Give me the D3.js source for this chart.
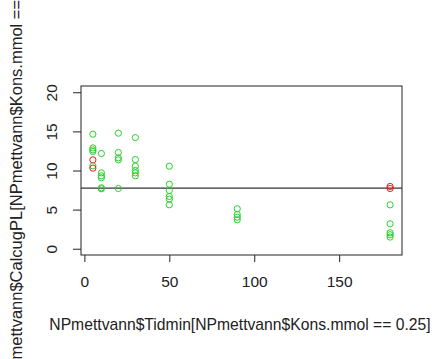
<!DOCTYPE html>
<html>
<head>
<meta charset="utf-8">
<script src="https://cdn.jsdelivr.net/npm/d3@7"></script>
<style>
  html, body { margin: 0; padding: 0; background: #fff; }
  svg { display: block; }
  text { font-family: "Liberation Sans", Arial, sans-serif; fill: #222; }
</style>
</head>
<body>
<script>
// Calculated concentration vs. time (Kons.mmol == 0.25)
const timeMin = [5, 5, 5, 5, 5, 5, 5,
                 10, 10, 10, 10, 10, 10,
                 20, 20, 20, 20, 20,
                 30, 30, 30, 30, 30, 30,
                 50, 50, 50, 50, 50, 50,
                 90, 90, 90, 90,
                 180, 180, 180, 180, 180, 180, 180];
const calcugPL = [14.64, 12.89, 12.64, 12.43, 11.36, 10.6, 10.30,
                  12.17, 9.70, 9.32, 9.07, 7.79, 7.66,
                  14.77, 12.30, 11.62, 11.36, 7.70,
                  14.21, 11.40, 10.55, 10.0, 9.70, 9.32,
                  10.55, 8.25, 7.45, 6.68, 6.34, 5.62,
                  5.11, 4.38, 4.04, 3.70,
                  7.96, 7.70, 5.61, 3.19, 2.04, 1.79, 1.49];
const pointGroup = ["g", "g", "g", "g", "r", "g", "r",
                    "g", "g", "g", "g", "g", "g",
                    "g", "g", "g", "g", "g",
                    "g", "g", "g", "g", "g", "g",
                    "g", "g", "g", "g", "g", "g",
                    "g", "g", "g", "g",
                    "r", "r", "g", "g", "g", "g", "g"];
const refLevel = 7.75;
const xTicks = [0, 50, 100, 150];
const yTicks = [0, 5, 10, 15, 20];
const xLabel = "NPmettvann$Tidmin[NPmettvann$Kons.mmol == 0.25]";
const yLabel = "NPmettvann$CalcugPL[NPmettvann$Kons.mmol == 0.25]";

const W = 434, H = 359;
const box = { left: 81, top: 86, right: 402, bottom: 255 };
const colors = { g: "#2bd02b", r: "#f01818" };

const svg = d3.select("body").append("svg").attr("width", W).attr("height", H);

const x = d3.scaleLinear().domain([-2, 187]).range([box.left, box.right]);
const y = d3.scaleLinear().domain([-0.8, 20.8]).range([box.bottom, box.top]);

// plot frame
svg.append("rect")
  .attr("x", box.left).attr("y", box.top)
  .attr("width", box.right - box.left).attr("height", box.bottom - box.top)
  .attr("fill", "none").attr("stroke", "#222").attr("stroke-width", 1);

// x axis
const xAxis = svg.append("g")
  .attr("transform", `translate(0,${box.bottom})`)
  .call(d3.axisBottom(x).tickValues(xTicks).tickSize(7).tickPadding(14).tickFormat(d3.format("d")));
xAxis.select(".domain").remove();
xAxis.selectAll("line").attr("stroke", "#222");
xAxis.selectAll("text").attr("font-size", 15.5).attr("font-family", "Liberation Sans, Arial, sans-serif").attr("fill", "#222");

// y axis with labels turned parallel to the axis
const yAxis = svg.append("g")
  .attr("transform", `translate(${box.left},0)`)
  .call(d3.axisLeft(y).tickValues(yTicks).tickSize(8).tickFormat(d3.format("d")));
yAxis.select(".domain").remove();
yAxis.selectAll("line").attr("stroke", "#222");
yAxis.selectAll("text")
  .attr("font-size", 15.5).attr("font-family", "Liberation Sans, Arial, sans-serif").attr("fill", "#222")
  .attr("x", null).attr("dy", null)
  .attr("text-anchor", "middle")
  .attr("transform", "translate(-24,0) rotate(-90)");

// reference level
svg.append("line")
  .attr("x1", box.left).attr("x2", box.right)
  .attr("y1", y(refLevel)).attr("y2", y(refLevel))
  .attr("stroke", "#333").attr("stroke-width", 1.4);

// points
svg.append("g").selectAll("circle")
  .data(timeMin.map((t, i) => ({ t, v: calcugPL[i], g: pointGroup[i] })))
  .join("circle")
  .attr("cx", d => x(d.t)).attr("cy", d => y(d.v)).attr("r", 3.1)
  .attr("fill", "none").attr("stroke", d => colors[d.g]).attr("stroke-width", 1);

// axis titles
svg.append("text")
  .attr("x", 240).attr("y", 330)
  .attr("text-anchor", "middle").attr("font-size", 15.7)
  .text(xLabel);

svg.append("text")
  .attr("transform", `translate(22,${(box.top + box.bottom) / 2}) rotate(-90)`)
  .attr("text-anchor", "middle").attr("font-size", 16.5)
  .text(yLabel);
</script>
</body>
</html>
